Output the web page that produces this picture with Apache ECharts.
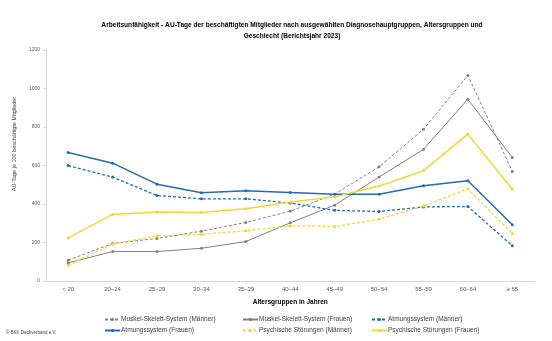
<!DOCTYPE html>
<html><head><meta charset="utf-8">
<script src="https://cdn.jsdelivr.net/npm/echarts@6/dist/echarts.min.js"></script>
<style>html,body{margin:0;padding:0;background:#fff}#c{width:552px;height:341px}</style>
</head><body><div id="c"></div>
<script>
const categories = ['< 20','20–24','25–29','30–34','35–39','40–44','45–49','50–54','55–59','60–64','≥ 65'];
const yTicks = [0,200,400,600,800,1000,1200];
const muskelMaenner = [108,195,221,259,304,363,451,593,788,1068,569];
const muskelFrauen = [94,153,153,170,205,302,394,540,684,944,642];
const atmungMaenner = [600,540,444,427,427,405,367,361,385,387,183];
const atmungFrauen = [668,612,503,458,469,460,451,451,495,521,292];
const psychMaenner = [82,191,235,242,261,287,283,321,389,479,247];
const psychFrauen = [224,346,358,356,375,410,437,493,573,763,477];
const seriesNames = ['Muskel-Skelett-System (Männer)','Muskel-Skelett-System (Frauen)','Atmungssystem (Männer)','Atmungssystem (Frauen)','Psychische Störungen (Männer)','Psychische Störungen (Frauen)'];

const GRAY='#808080', BLUE='#1f6db3', YEL='#f2d735';
function mk(name, data, color, dashed, width){
  return {name, type:'line', data, symbol:'circle', symbolSize:3, showSymbol:true,
    lineStyle:{color, width, type: dashed?[3,2]:'solid'}, itemStyle:{color},
    emphasis:{disabled:true}, animation:false};
}
const chart = echarts.init(document.getElementById('c'));
const legBase = {orient:'horizontal', itemWidth:15, itemHeight:4, itemGap:5,
  textStyle:{fontSize:6.5, color:'#404040', fontFamily:'Liberation Sans', padding:[0,0,0,-4]}, selectedMode:false, padding:0};
const legPos = [[104,316],[104,327],[242,316],[242,327],[371,316],[371,327]];
const legOrder = [0,3,1,4,2,5];
chart.setOption({
  animation:false,
  textStyle:{fontFamily:'Liberation Sans'},
  title:{text:'Arbeitsunfähigkeit - AU-Tage der beschäftigten Mitglieder nach ausgewählten Diagnosehauptgruppen, Altersgruppen und\nGeschlecht (Berichtsjahr 2023)',
    left:287, top:15, textAlign:'center',
    textStyle:{fontSize:6.6, fontWeight:'bold', color:'#000', lineHeight:11, fontFamily:'Liberation Sans'}},
  grid:{left:46, right:17.5, top:50, bottom:60, containLabel:false},
  xAxis:{type:'category', data:categories, boundaryGap:true,
    axisLine:{lineStyle:{color:'#d9d9d9'}}, axisTick:{show:false},
    axisLabel:{fontSize:6, color:'#595959', margin:5},
    name:'Altersgruppen in Jahren', nameLocation:'middle', nameGap:18,
    nameTextStyle:{fontSize:6.5, fontWeight:'bold', color:'#000'}},
  yAxis:{type:'value', min:0, max:1200, interval:200,
    axisLine:{show:true, lineStyle:{color:'#d9d9d9'}}, axisTick:{show:true, length:3, lineStyle:{color:'#d9d9d9'}},
    splitLine:{show:false},
    axisLabel:{fontSize:5, color:'#595959', margin:6, formatter: v => yTicks.includes(v)? String(v) : ''}},
  legend: legOrder.map((si, k) => Object.assign({}, legBase, {left:legPos[k][0], top:legPos[k][1], data:[seriesNames[si]]})),
  graphic:[
    {type:'text', x:14, y:144, rotation:Math.PI/2,
      style:{text:'AU-Tage je 100 beschäftigte Mitglieder', fontSize:5.5, fill:'#404040', align:'center', verticalAlign:'middle', fontFamily:'Liberation Sans'}},
    {type:'text', x:6, y:333,
      style:{text:'© BKK Dachverband e.V.', fontSize:4.5, fill:'#404040', align:'left', verticalAlign:'middle', fontFamily:'Liberation Sans'}}
  ],
  series:[
    mk(seriesNames[0], muskelMaenner, GRAY, true, 1),
    mk(seriesNames[1], muskelFrauen, GRAY, false, 1),
    mk(seriesNames[2], atmungMaenner, BLUE, true, 1.3),
    mk(seriesNames[3], atmungFrauen, BLUE, false, 1.5),
    mk(seriesNames[4], psychMaenner, YEL, true, 1.3),
    mk(seriesNames[5], psychFrauen, YEL, false, 1.5)
  ]
});
</script></body></html>
